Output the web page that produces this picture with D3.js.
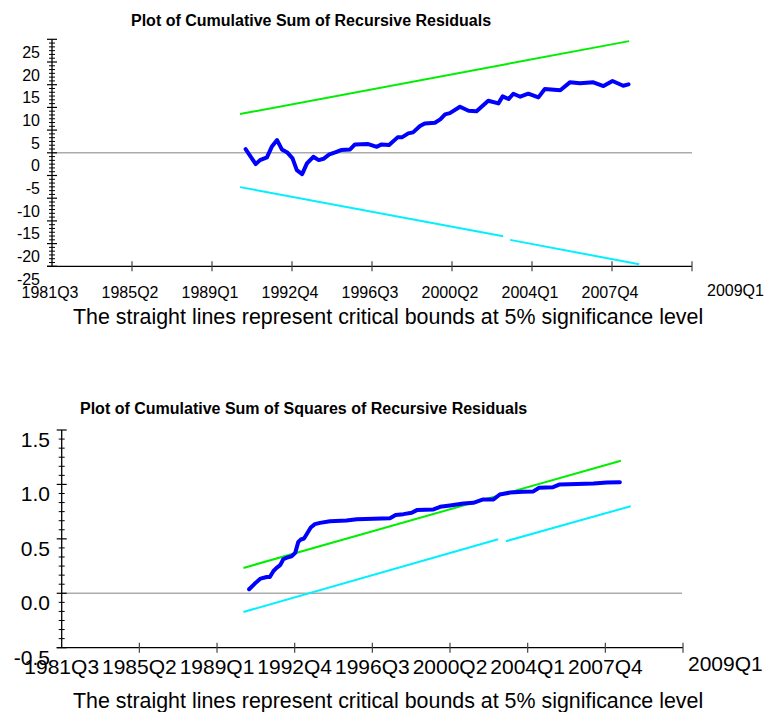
<!DOCTYPE html>
<html><head><meta charset="utf-8">
<script src="https://cdn.jsdelivr.net/npm/d3@7/dist/d3.min.js"></script>
<style>
html,body{margin:0;padding:0;background:#fff;}
svg text{font-family:"Liberation Sans",Arial,sans-serif;fill:#000;}
</style></head>
<body>
<svg id="chart" width="764" height="712"></svg>
<script>
// ---------------- DATA ----------------
// x positions are quarters elapsed since 1981Q3
const tickQuarters = [0, 15, 30, 45, 60, 75, 90, 105, 120];
const tickLabels = ["1981Q3","1985Q2","1989Q1","1992Q4","1996Q3","2000Q2","2004Q1","2007Q4",""];
const endLabel = "2009Q1";

// Chart 1: CUSUM
const cusumYTicks = [25, 20, 15, 10, 5, 0, -5, -10, -15, -20, -25];
const cusumQ = [36.3,38.2,39.0,40.3,41.2,42.2,43.1,44.1,45.1,45.9,46.9,47.8,49.0,50.0,50.9,52.0,53.1,54.2,55.9,56.8,59.3,60.9,61.8,63.2,64.8,65.6,66.8,67.7,69.0,69.9,71.8,72.8,73.7,74.6,76.5,78.1,79.6,81.8,83.7,84.5,85.6,86.5,87.8,89.3,91.2,92.4,95.3,97.1,99.0,101.5,103.4,105.1,107.1,108.1];
const cusumV = [0.82,-2.49,-1.61,-1.01,1.32,2.80,0.75,0.09,-1.23,-3.81,-4.70,-2.34,-0.88,-1.61,-1.32,-0.35,0.09,0.60,0.75,1.85,1.92,1.32,1.85,1.70,3.40,3.40,4.28,4.50,5.89,6.48,6.61,7.36,8.47,8.75,10.14,9.26,9.13,11.46,10.89,12.43,11.84,13.01,12.35,13.01,12.21,14.04,13.76,15.52,15.30,15.52,14.70,15.81,14.77,15.08];
const cusumUpperQ = [35.25, 108.2];
const cusumUpperV = [8.53, 24.6];
const cusumLowerQ1 = [35.25, 84.6];
const cusumLowerV1 = [-7.56, -18.36];
const cusumLowerQ2 = [85.9, 110.1];
const cusumLowerV2 = [-19.18, -24.55];

// Chart 2: CUSUM of squares
const cusumsqYTicks = [1.5, 1.0, 0.5, 0.0, -0.5];
const cusumsqYLabels = ["1.5","1.0","0.5","0.0","-0.5"];
const cusumsqQ = [36.2,37.3,38.4,39.6,40.2,40.9,41.5,42.2,42.8,43.5,44.4,45.1,45.7,46.2,46.8,47.4,48.1,48.9,49.9,51.8,55.0,57.0,60.2,63.4,64.5,66.0,67.6,68.6,71.8,73.1,75.0,77.6,79.5,81.4,83.4,84.6,86.6,89.1,91.1,92.2,94.9,96.2,99.5,102.7,105.3,107.8];
const cusumsqV = [0.037,0.089,0.135,0.150,0.150,0.205,0.233,0.258,0.313,0.328,0.340,0.371,0.472,0.494,0.503,0.549,0.604,0.635,0.647,0.662,0.669,0.681,0.684,0.690,0.720,0.727,0.739,0.764,0.770,0.794,0.807,0.825,0.831,0.862,0.862,0.908,0.925,0.932,0.936,0.969,0.975,1.000,1.003,1.009,1.018,1.021];
const sqUpperQ = [35.1, 108.0];
const sqUpperV = [0.233, 1.217];
const sqLowerQ1 = [35.1, 84.3];
const sqLowerV1 = [-0.172, 0.497];
const sqLowerQ2 = [85.8, 109.9];
const sqLowerV2 = [0.478, 0.800];

const titles = ["Plot of Cumulative Sum of Recursive Residuals",
                "Plot of Cumulative Sum of Squares of Recursive Residuals"];
const footer = "The straight lines represent critical bounds at 5% significance level";

// ---------------- DRAW ----------------
const svg = d3.select("#chart");
const zip = (a, b) => a.map((d, i) => [d, b[i]]);

function drawPanel(cfg) {
  const g = svg.append("g");
  const x = d3.scaleLinear().domain([0, 120]).range([cfg.x0, cfg.x1]);
  const y = d3.scaleLinear().domain([cfg.yMin, cfg.yMax]).range([cfg.y0, cfg.y1]);

  // title
  g.append("text").attr("x", cfg.titleX).attr("y", cfg.titleY)
    .style("font-size", "16px").style("font-weight", "bold").text(cfg.title);

  // zero line
  g.append("line").attr("x1", x(0)).attr("x2", cfg.zeroEnd)
    .attr("y1", y(0)).attr("y2", y(0))
    .attr("stroke", "#ababab").attr("stroke-width", 1.6);

  // y axis
  g.append("line").attr("x1", x(0)).attr("x2", x(0)).attr("y1", y(cfg.yMax)).attr("y2", y(cfg.yMin))
    .attr("stroke", "#000").attr("stroke-width", 1.3);
  const yt = cfg.yTicks.slice().sort((a, b) => a - b);
  for (let i = 0; i < yt.length; i++) {
    g.append("line").attr("x1", x(0) - 5).attr("x2", x(0) + 5)
      .attr("y1", y(yt[i])).attr("y2", y(yt[i])).attr("stroke", "#000").attr("stroke-width", 1.2);
    if (i < yt.length - 1) {
      const step = (yt[i + 1] - yt[i]) / 6;
      for (let j = 1; j < 6; j++) {
        const v = yt[i] + j * step;
        g.append("line").attr("x1", x(0) - 3).attr("x2", x(0) + 3)
          .attr("y1", y(v)).attr("y2", y(v)).attr("stroke", "#000").attr("stroke-width", 1);
      }
    }
  }
  cfg.yTicks.forEach((v, i) => {
    g.append("text").attr("x", cfg.yLabelX).attr("y", y(v) + cfg.yLabelDy)
      .attr("text-anchor", "end").style("font-size", cfg.yFont + "px")
      .text(cfg.yLabels ? cfg.yLabels[i] : String(v));
  });

  // x axis
  g.append("line").attr("x1", x(0) - 5).attr("x2", x(120)).attr("y1", y(cfg.yMin)).attr("y2", y(cfg.yMin))
    .attr("stroke", "#000").attr("stroke-width", 1.3);
  tickQuarters.forEach((q, i) => {
    if (i > 0) {
      g.append("line").attr("x1", x(q)).attr("x2", x(q))
        .attr("y1", y(cfg.yMin) - 5).attr("y2", y(cfg.yMin) + 5)
        .attr("stroke", "#444").attr("stroke-width", 1.2);
    }
    if (tickLabels[i]) {
      g.append("text").attr("x", x(q) + cfg.xLabelDx).attr("y", y(cfg.yMin) + cfg.xLabelDy)
        .attr("text-anchor", "middle").style("font-size", cfg.xFont + "px").text(tickLabels[i]);
    }
  });
  g.append("text").attr("x", cfg.endLabelX).attr("y", y(cfg.yMin) + cfg.endLabelDy)
    .style("font-size", cfg.xFont + "px").text(endLabel);

  // footer
  g.append("text").attr("x", 73).attr("y", cfg.footerY)
    .style("font-size", "21.4px").text(footer);

  const line = d3.line().x(d => x(d[0])).y(d => y(d[1]));
  g.append("path").datum(zip(cfg.upQ, cfg.upV)).attr("d", line)
    .attr("fill", "none").attr("stroke", "#00ee00").attr("stroke-width", 2);
  g.append("path").datum(zip(cfg.lo1Q, cfg.lo1V)).attr("d", line)
    .attr("fill", "none").attr("stroke", "#00f0ff").attr("stroke-width", 2);
  g.append("path").datum(zip(cfg.lo2Q, cfg.lo2V)).attr("d", line)
    .attr("fill", "none").attr("stroke", "#00f0ff").attr("stroke-width", 2);
  g.append("path").datum(zip(cfg.q, cfg.v)).attr("d", line)
    .attr("fill", "none").attr("stroke", "#0000ff").attr("stroke-width", 4)
    .attr("stroke-linejoin", "round").attr("stroke-linecap", "round");
}

drawPanel({
  x0: 52, x1: 692, y0: 266.3, y1: 39.3, yMin: -25, yMax: 25,
  title: titles[0], titleX: 131, titleY: 26,
  zeroEnd: 692,
  yTicks: cusumYTicks, yLabelX: 40, yLabelDy: 18.5, yFont: 16,
  xFont: 16, xLabelDx: -2, xLabelDy: 32, endLabelX: 707, endLabelDy: 30,
  footerY: 324,
  q: cusumQ, v: cusumV,
  upQ: cusumUpperQ, upV: cusumUpperV,
  lo1Q: cusumLowerQ1, lo1V: cusumLowerV1, lo2Q: cusumLowerQ2, lo2V: cusumLowerV2
});

drawPanel({
  x0: 61.7, x1: 683, y0: 647.7, y1: 430, yMin: -0.5, yMax: 1.5,
  title: titles[1], titleX: 80, titleY: 413.5,
  zeroEnd: 682,
  yTicks: cusumsqYTicks, yLabels: cusumsqYLabels, yLabelX: 50, yLabelDy: 17, yFont: 21,
  xFont: 21, xLabelDx: 0, xLabelDy: 26, endLabelX: 688, endLabelDy: 23,
  footerY: 708,
  q: cusumsqQ, v: cusumsqV,
  upQ: sqUpperQ, upV: sqUpperV,
  lo1Q: sqLowerQ1, lo1V: sqLowerV1, lo2Q: sqLowerQ2, lo2V: sqLowerV2
});
</script>
</body></html>
